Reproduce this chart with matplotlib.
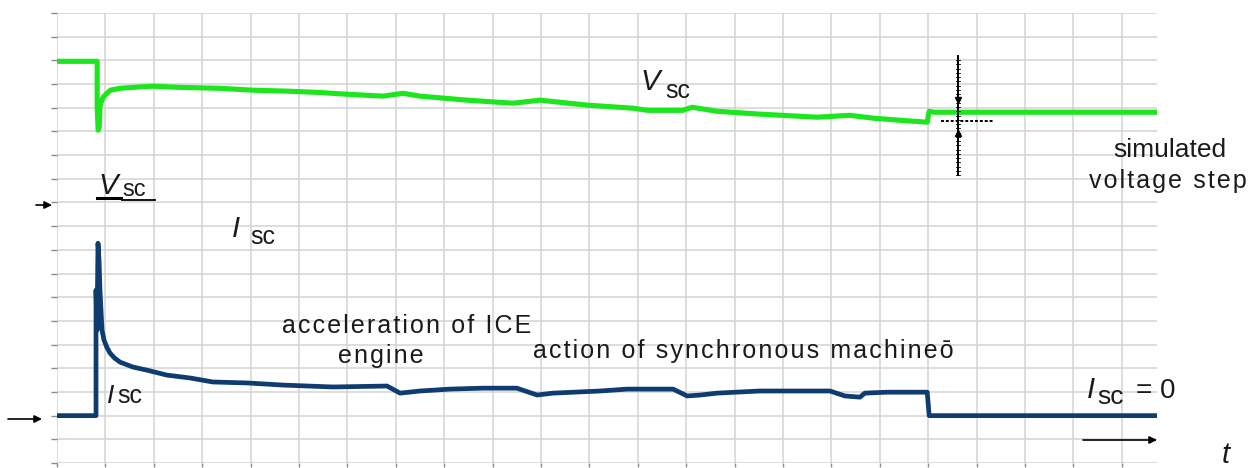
import matplotlib
matplotlib.use("Agg")
import matplotlib.pyplot as plt
from matplotlib.lines import Line2D

# ---------------- data (grid units: x = time divisions, y = vertical divisions) -------------
v_t = [0, 0.83, 0.83, 0.85, 0.87, 0.89, 0.95, 1.10, 1.30, 1.57, 1.98, 2.54, 3.37, 4.05,
       4.75, 5.37, 5.99, 6.74, 7.15, 7.50, 8.47, 9.42, 9.98, 10.95, 11.90, 12.21, 12.93,
       13.12, 13.64, 14.52, 15.70, 16.38, 16.86, 17.42, 17.98, 18.02, 18.12, 22.73]
v_sc = [16.96, 16.96, 15.0, 14.05, 14.14, 15.1, 15.44, 15.74, 15.82, 15.86, 15.91, 15.86,
        15.82, 15.74, 15.70, 15.65, 15.57, 15.49, 15.61, 15.49, 15.32, 15.19, 15.32, 15.11,
        14.98, 14.89, 14.89, 15.02, 14.85, 14.73, 14.60, 14.68, 14.56, 14.47, 14.39, 14.85,
        14.81, 14.81]

i_t = [0, 0.806, 0.806, 0.826, 0.837, 0.847, 0.868, 0.888, 0.909, 0.930, 0.971, 1.03,
       1.095, 1.19, 1.302, 1.570, 1.860, 2.273, 2.748, 3.223, 3.926, 4.669, 5.702, 6.818,
       7.087, 7.50, 8.12, 8.80, 9.50, 9.92, 10.25, 11.22, 11.78, 12.73, 13.02, 13.29, 13.64,
       14.52, 15.97, 16.28, 16.59, 16.69, 17.15, 17.98, 18.02, 22.73]
i_sc = [2.0, 2.0, 7.30, 5.61, 7.5, 9.28, 8.57, 7.30, 6.46, 5.61, 5.19, 4.89, 4.64, 4.43,
        4.26, 4.05, 3.92, 3.71, 3.59, 3.42, 3.38, 3.29, 3.21, 3.25, 2.95, 3.04, 3.12, 3.16,
        3.16, 2.87, 2.95, 3.04, 3.12, 3.12, 2.83, 2.87, 2.95, 3.04, 3.04, 2.83, 2.78, 2.95,
        2.99, 2.99, 2.0, 2.0]

n_xdiv = 22
n_ydiv = 19

# ---------------- style ----------------
W, H = 1258, 468
GREEN = "#1ee61e"
BLUE = "#0f3c70"
GRID = "#d3d3d3"
TXT = "#1a1a1a"
FAM = ["Liberation Sans", "DejaVu Sans"]
plt.rcParams["font.family"] = FAM

fig = plt.figure(figsize=(W / 100, H / 100), dpi=100)
ax = fig.add_axes([57 / W, 5 / H, 1100 / W, 450 / H])
ax.set_xlim(0, 1100 / 48.4)
ax.set_ylim(0, n_ydiv)
ax.set_xticks(range(0, n_xdiv + 1))
ax.set_yticks(range(0, n_ydiv + 1))
ax.set_xticklabels([])
ax.set_yticklabels([])
ax.grid(True, color=GRID, lw=1.1)
ax.tick_params(axis="y", length=4, width=1, color="#8a8a8a", direction="out")
ax.tick_params(axis="x", length=3, width=1, color="#8a8a8a", direction="out")
for s in ax.spines.values():
    s.set_visible(False)
ax.set_axisbelow(True)

ax.plot(v_t, v_sc, color=GREEN, lw=3.7, solid_joinstyle="round", solid_capstyle="butt")
ax.plot(i_t, i_sc, color=BLUE, lw=3.4, solid_joinstyle="round", solid_capstyle="butt")

# measurement cross
cx, cy0, cy1 = 18.62, 12.15, 17.17
hy, hx0, hx1 = 14.43, 18.26, 19.34
ax.plot([cx, cx], [cy0, cy1], color="black", lw=1.4)
ax.plot([hx0, hx1], [hy, hy], color="black", lw=1.4, ls=(0, (1.5, 1)))
k = cy0
while k <= cy1:
    ax.plot([cx - 0.04, cx + 0.04], [k, k], color="black", lw=0.6)
    k += 0.18
ax.plot([cx], [15.32], marker="v", color="black", ms=5)
ax.plot([cx], [13.92], marker="^", color="black", ms=5)


def P(x, y):
    return (x / W, 1 - y / H)


def spaced(s):
    return "\u200a".join(s)


def txt(x, y, s, size=18, style="normal", ha="left"):
    fig.text(*P(x, y), s, fontsize=size, style=style, ha=ha, va="baseline", color=TXT,
             family=FAM)


# V_sc labels
txt(640, 90, "V", 21, "italic")
txt(665, 98, "sc", 18)
txt(98, 194, "V", 21, "italic")
txt(122, 196, "sc", 17)
fig.add_artist(Line2D([97 / W, 121 / W], [1 - 198 / H] * 2, color="black", lw=2.2))
fig.add_artist(Line2D([122 / W, 155 / W], [1 - 200 / H] * 2, color="black", lw=1.3))

# I_sc labels
txt(232, 237, "I", 21, "italic")
txt(250, 244, "sc", 18)
txt(107, 403, "I", 19, "italic")
txt(117, 403, "sc", 18)
txt(1087, 398, "I", 21, "italic")
txt(1097, 404, "sc", 19)
txt(1136, 398, "= 0", 20)
txt(1222, 463, "t", 21, "italic")

# annotations
txt(1170, 157, "simulated", 19, ha="center")
txt(1168, 188, spaced("voltage step"), 18, ha="center")
txt(282, 333, spaced("acceleration of ICE"), 18)
txt(338, 363, spaced("engine"), 18)
txt(533, 358, spaced("action of synchronous machine\u014d"), 18)

# arrows
arr = dict(arrowstyle="-|>", color="black", lw=1.2, mutation_scale=11, shrinkA=0, shrinkB=0)
fig.add_artist(matplotlib.patches.FancyArrowPatch(P(8, 419), P(42, 419),
               transform=fig.transFigure, **arr))
fig.add_artist(matplotlib.patches.FancyArrowPatch(P(36, 205), P(52, 205),
               transform=fig.transFigure, **arr))
fig.add_artist(matplotlib.patches.FancyArrowPatch(P(1083, 440), P(1157, 440),
               transform=fig.transFigure, **arr))

fig.savefig("out.png", dpi=100)
